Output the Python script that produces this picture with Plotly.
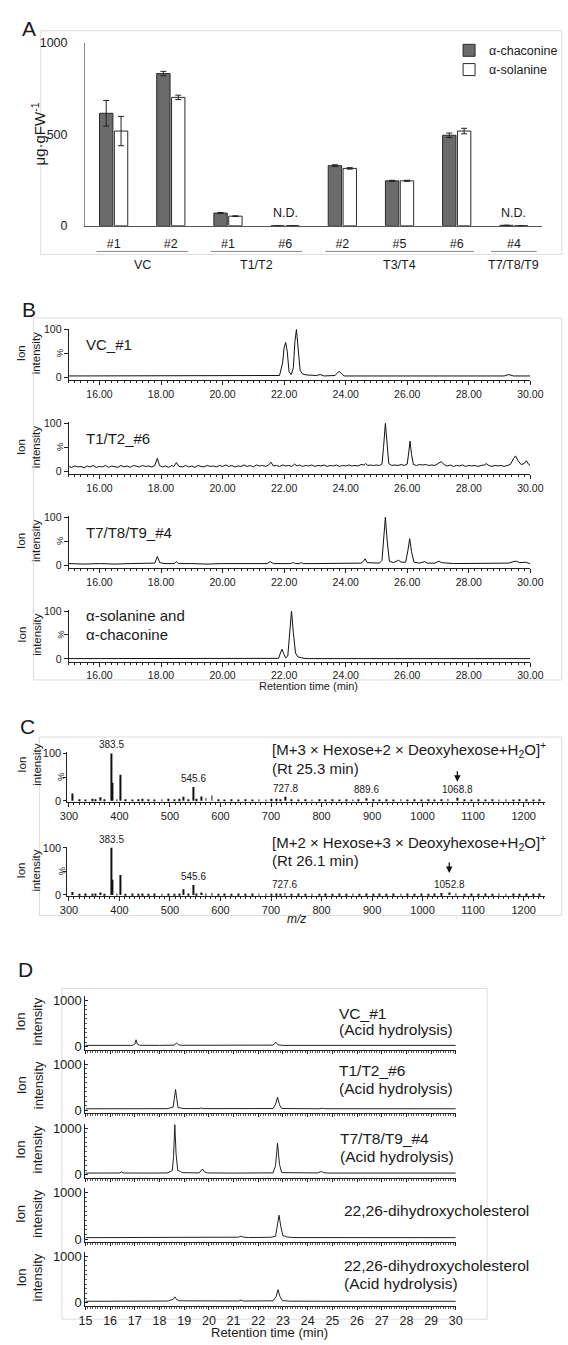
import plotly.graph_objects as go

W, H = 568, 1345
FONT = "Liberation Sans, Arial, Helvetica, sans-serif"
TXT = "#1a1a1a"
AX = "#222222"

# ===================== DATA =====================
# Panel A : glycoalkaloid content (ug/gFW)
A_samples = ["#1", "#2", "#1", "#6", "#2", "#5", "#6", "#4"]
A_groups = ["VC", "VC", "T1/T2", "T1/T2", "T3/T4", "T3/T4", "T3/T4", "T7/T8/T9"]
A_chaconine = [614, 831, 69, 0, 328, 245, 494, 2]
A_chaconine_err = [70, 12, 3, 0, 5, 3, 12, 0]
A_solanine = [517, 701, 52, 0, 313, 245, 517, 0]
A_solanine_err = [80, 12, 2, 0, 4, 3, 15, 0]

# Panel B : chromatograms (retention time min, relative intensity %)
B_names = ["VC_#1", "T1/T2_#6", "T7/T8/T9_#4", "α-solanine and<br>α-chaconine"]
B_vc1 = [(15.0, 3), (16.5, 3), (18.0, 3), (19.5, 3), (21.0, 3), (21.85, 4), (21.95, 30), (22.0, 62),
         (22.05, 73), (22.1, 55), (22.16, 12), (22.23, 6), (22.3, 20), (22.35, 75), (22.4, 100),
         (22.45, 70), (22.52, 15), (22.6, 7), (22.75, 5), (23.05, 4), (23.17, 6), (23.3, 3),
         (23.65, 4), (23.73, 9), (23.79, 13), (23.86, 8), (23.95, 3), (25.0, 3), (26.8, 3),
         (26.9, 4), (27.0, 3), (29.15, 3), (29.3, 6), (29.45, 3), (30.0, 3)]
B_t12_6 = [(15.0, 10), (15.1, 8), (15.2, 11), (15.3, 9), (15.4, 10), (15.5, 7), (15.6, 11), (15.7, 9),
           (15.8, 12), (15.9, 8), (16.0, 10), (16.1, 9), (16.2, 12), (16.3, 8), (16.4, 11), (16.5, 10),
           (16.6, 8), (16.7, 12), (16.8, 9), (16.9, 11), (17.0, 8), (17.1, 12), (17.2, 10), (17.3, 9),
           (17.4, 12), (17.5, 10), (17.6, 11), (17.7, 9), (17.8, 12), (17.88, 27), (17.95, 12),
           (18.05, 9), (18.15, 11), (18.25, 8), (18.35, 12), (18.42, 10), (18.5, 18), (18.58, 10),
           (18.7, 9), (18.8, 12), (18.9, 9), (19.0, 11), (19.1, 8), (19.2, 12), (19.3, 10), (19.4, 9),
           (19.5, 12), (19.6, 10), (19.7, 11), (19.8, 9), (19.9, 12), (20.0, 10), (20.1, 13), (20.2, 10),
           (20.3, 12), (20.4, 9), (20.5, 11), (20.6, 10), (20.7, 13), (20.8, 10), (20.9, 12), (21.0, 9),
           (21.1, 13), (21.2, 11), (21.3, 12), (21.4, 10), (21.5, 13), (21.57, 19), (21.65, 11),
           (21.75, 12), (21.85, 10), (21.95, 13), (22.05, 11), (22.15, 12), (22.25, 10), (22.34, 15),
           (22.42, 11), (22.5, 13), (22.6, 10), (22.7, 12), (22.8, 11), (22.9, 13), (23.0, 10),
           (23.1, 12), (23.2, 11), (23.3, 13), (23.4, 10), (23.5, 12), (23.6, 11), (23.7, 13),
           (23.8, 10), (23.9, 12), (24.0, 11), (24.1, 13), (24.2, 11), (24.3, 12), (24.4, 11),
           (24.5, 14), (24.6, 13), (24.65, 16), (24.72, 12), (24.8, 13), (24.9, 12), (25.0, 13),
           (25.1, 12), (25.18, 15), (25.23, 50), (25.29, 100), (25.35, 55), (25.4, 16), (25.5, 12),
           (25.6, 13), (25.7, 12), (25.8, 14), (25.9, 12), (26.0, 15), (26.05, 40), (26.09, 63),
           (26.14, 35), (26.2, 14), (26.3, 12), (26.4, 14), (26.5, 13), (26.6, 14), (26.7, 12),
           (26.8, 13), (26.9, 12), (27.0, 16), (27.1, 20), (27.2, 14), (27.3, 11), (27.4, 13),
           (27.5, 10), (27.6, 12), (27.7, 11), (27.8, 13), (27.9, 10), (28.0, 12), (28.1, 11),
           (28.2, 12), (28.3, 10), (28.4, 12), (28.5, 13), (28.57, 16), (28.65, 12), (28.75, 10),
           (28.85, 12), (28.95, 11), (29.05, 12), (29.15, 10), (29.25, 12), (29.35, 14), (29.45, 26),
           (29.52, 32), (29.6, 22), (29.7, 14), (29.8, 16), (29.87, 22), (29.95, 14), (30.0, 12)]
B_t789_4 = [(15.0, 3), (15.5, 2), (16.0, 3), (16.5, 2), (17.0, 3), (17.5, 3), (17.8, 4), (17.88, 18),
            (17.96, 5), (18.1, 3), (18.43, 3), (18.5, 7), (18.57, 3), (19.0, 3), (19.5, 2), (20.0, 3),
            (20.5, 3), (21.0, 3), (21.45, 3), (21.55, 7), (21.65, 3), (22.2, 3), (22.3, 5), (22.38, 3),
            (22.5, 3), (22.56, 5), (22.62, 3), (23.0, 3), (23.5, 3), (24.0, 3), (24.5, 4), (24.58, 8),
            (24.63, 13), (24.7, 5), (24.9, 4), (25.1, 4), (25.18, 10), (25.23, 50), (25.29, 100),
            (25.35, 50), (25.42, 8), (25.55, 5), (25.65, 7), (25.72, 10), (25.8, 6), (25.95, 6),
            (26.02, 30), (26.08, 55), (26.14, 28), (26.22, 6), (26.4, 4), (26.52, 6), (26.57, 7),
            (26.65, 4), (26.9, 4), (27.03, 8), (27.12, 5), (27.5, 3), (28.0, 3), (28.5, 3), (29.0, 3),
            (29.3, 4), (29.45, 7), (29.55, 8), (29.65, 5), (29.8, 5), (29.86, 6), (29.93, 4), (30.0, 3)]
B_std = [(15.0, 0.5), (21.0, 0.5), (21.82, 1), (21.88, 12), (21.93, 20), (21.98, 12), (22.05, 2),
         (22.12, 6), (22.18, 50), (22.24, 100), (22.3, 55), (22.37, 12), (22.45, 4), (22.55, 2),
         (22.65, 1), (22.8, 0.5), (30.0, 0.5)]
B_traces = [B_vc1, B_t12_6, B_t789_4, B_std]

# Panel C : MS spectra (m/z, relative intensity %)
C_titles = ["[M+3 × Hexose+2 × Deoxyhexose+H<sub>2</sub>O]<sup>+</sup>",
            "[M+2 × Hexose+3 × Deoxyhexose+H<sub>2</sub>O]<sup>+</sup>"]
C_rt = ["(Rt 25.3 min)", "(Rt 26.1 min)"]
C_spec1 = [(307, 15), (320, 3), (333, 2), (346, 4), (352, 3), (363, 7), (371, 3), (383.5, 100),
           (385.5, 38), (395, 3), (401.5, 55), (412, 3), (425, 2), (438, 3), (446, 4), (458, 3),
           (470, 2), (484, 3), (497, 4), (509, 3), (518, 4), (527, 8), (536, 3), (545.6, 29),
           (553, 4), (563, 9), (571, 5), (583, 11), (596, 3), (608, 2), (622, 3), (636, 2), (650, 3),
           (663, 2), (676, 3), (690, 2), (701, 4), (710, 4), (718, 3), (727.8, 8), (741, 3), (755, 2),
           (768, 3), (781, 2), (795, 3), (808, 2), (822, 3), (836, 2), (849, 3), (862, 2), (873, 3),
           (889.6, 5), (902, 3), (915, 2), (929, 3), (943, 2), (957, 3), (970, 2), (984, 3), (997, 2),
           (1011, 3), (1024, 2), (1037, 3), (1050, 4), (1068.8, 6), (1082, 3), (1096, 2), (1110, 3),
           (1124, 2), (1138, 3), (1151, 2), (1165, 3), (1179, 2), (1192, 3), (1206, 3), (1219, 2),
           (1232, 3)]
C_spec2 = [(307, 6), (320, 2), (333, 3), (346, 2), (352, 3), (363, 5), (371, 2), (383.5, 100),
           (385.5, 32), (395, 3), (401.5, 42), (412, 2), (425, 3), (438, 2), (446, 3), (458, 2),
           (470, 3), (484, 2), (497, 3), (509, 2), (518, 3), (527, 12), (536, 3), (545.6, 21),
           (553, 3), (563, 5), (571, 3), (583, 4), (596, 2), (608, 3), (622, 2), (636, 3), (650, 2),
           (663, 3), (676, 2), (690, 3), (701, 2), (710, 3), (718, 2), (727.6, 4), (741, 2), (755, 3),
           (768, 2), (781, 3), (795, 2), (808, 3), (822, 2), (836, 3), (849, 2), (862, 3), (875, 2),
           (889, 3), (902, 2), (915, 3), (929, 2), (943, 3), (957, 2), (970, 3), (984, 2), (997, 3),
           (1011, 2), (1024, 3), (1037, 4), (1052.8, 5), (1066, 3), (1082, 2), (1096, 3), (1110, 2),
           (1124, 3), (1138, 2), (1151, 3), (1165, 2), (1179, 3), (1192, 2), (1206, 3), (1219, 2),
           (1232, 3)]
C_specs = [C_spec1, C_spec2]
C_labels = [[383.5, 545.6, 727.8, 889.6, 1068.8], [383.5, 545.6, 727.6, 1052.8]]
C_target = [1068.8, 1052.8]

# Panel D : chromatograms after acid hydrolysis (retention time min, ion intensity)
D_names = [["VC_#1", "(Acid hydrolysis)"], ["T1/T2_#6", "(Acid hydrolysis)"],
           ["T7/T8/T9_#4", "(Acid hydrolysis)"], ["22,26-dihydroxycholesterol"],
           ["22,26-dihydroxycholesterol", "(Acid hydrolysis)"]]
D_1 = [(15.0, 30), (16.0, 32), (16.9, 30), (17.0, 60), (17.05, 150), (17.1, 60), (17.2, 32), (18.0, 30),
       (18.6, 35), (18.69, 85), (18.78, 40), (18.9, 32), (20.0, 30), (21.0, 32), (22.0, 30), (22.6, 35),
       (22.71, 100), (22.8, 40), (23.0, 30), (25.0, 30), (27.0, 30), (30.0, 30)]
D_2 = [(15.0, 35), (17.0, 35), (18.3, 37), (18.45, 55), (18.55, 70), (18.6, 250), (18.65, 450),
       (18.7, 250), (18.75, 60), (18.85, 55), (18.95, 40), (19.6, 38), (19.7, 50), (19.8, 38),
       (21.0, 35), (22.6, 40), (22.7, 130), (22.78, 285), (22.86, 120), (22.95, 40), (24.5, 35),
       (24.6, 45), (24.7, 36), (30.0, 35)]
D_3 = [(15.0, 35), (16.4, 37), (16.46, 60), (16.52, 37), (17.6, 35), (18.3, 38), (18.43, 65),
       (18.52, 90), (18.57, 400), (18.62, 1080), (18.67, 450), (18.74, 90), (18.85, 70), (18.92, 45),
       (19.6, 38), (19.68, 80), (19.74, 122), (19.82, 60), (19.95, 38), (21.0, 35), (22.6, 40),
       (22.7, 200), (22.78, 680), (22.86, 220), (22.95, 45), (24.4, 38), (24.5, 60), (24.56, 72),
       (24.65, 45), (24.8, 36), (30.0, 35)]
D_4 = [(15.0, 30), (17.0, 30), (20.7, 32), (21.2, 40), (21.3, 62), (21.4, 40), (21.6, 32), (22.35, 35),
       (22.43, 45), (22.52, 38), (22.7, 60), (22.78, 300), (22.84, 514), (22.92, 250), (23.0, 70),
       (23.08, 65), (23.15, 45), (23.4, 32), (26.0, 30), (30.0, 30)]
D_5 = [(15.0, 30), (17.0, 32), (18.35, 35), (18.45, 55), (18.55, 70), (18.62, 125), (18.7, 65),
       (18.8, 40), (20.0, 32), (21.2, 36), (21.3, 55), (21.4, 35), (22.6, 40), (22.72, 130),
       (22.8, 280), (22.88, 130), (22.98, 45), (23.3, 32), (27.0, 30), (30.0, 30)]
D_traces = [D_1, D_2, D_3, D_4, D_5]


# ===================== HELPERS =====================
def fx(p):
    return p / W


def fy(p):
    return 1 - p / H


def ann(text, x, y, size, xanchor="center", yanchor="middle", **kw):
    d = dict(text=text, x=fx(x), y=fy(y), xref="paper", yref="paper", showarrow=False,
             font=dict(size=size, color=TXT, family=FONT), xanchor=xanchor, yanchor=yanchor)
    d.update(kw)
    return d


fig = go.Figure()
layout = dict(width=W, height=H, margin=dict(l=0, r=0, t=0, b=0), paper_bgcolor="white",
              plot_bgcolor="rgba(0,0,0,0)", barmode="group", bargap=0.48, bargroupgap=0.1,
              font=dict(family=FONT, color=TXT), showlegend=True,
              legend=dict(x=fx(458), y=fy(29), xanchor="left", yanchor="top",
                          bgcolor="rgba(0,0,0,0)", font=dict(size=12.5, color=TXT),
                          itemwidth=30, tracegroupgap=0))
annotations = []
shapes = []

# ===================== PANEL A =====================
idx = list(range(len(A_samples)))
fig.add_trace(go.Bar(x=idx, y=A_chaconine, name="α-chaconine", xaxis="x", yaxis="y",
                     marker=dict(color="#6b6b6b", line=dict(color="#2a2a2a", width=1)),
                     error_y=dict(type="data", array=A_chaconine_err, color="#222", thickness=1, width=3)))
fig.add_trace(go.Bar(x=idx, y=A_solanine, name="α-solanine", xaxis="x", yaxis="y",
                     marker=dict(color="white", line=dict(color="#2a2a2a", width=1)),
                     error_y=dict(type="data", array=A_solanine_err, color="#222", thickness=1, width=3)))
layout["xaxis"] = dict(domain=[fx(80), fx(555)], range=[-0.5, len(idx) - 0.5], anchor="y",
                       tickvals=idx, ticktext=A_samples, ticks="", showline=True, linecolor="#555",
                       tickfont=dict(size=12.5, color=TXT), ticklabelstandoff=6, showgrid=False,
                       zeroline=False)
layout["yaxis"] = dict(domain=[fy(221), fy(36)], range=[0, 1000], anchor="x", tickvals=[0, 500, 1000],
                       ticks="", showline=True, linecolor="#888", tickfont=dict(size=12.5, color=TXT),
                       ticklabelstandoff=14, showgrid=False, zeroline=False)
for i in idx:
    if max(A_chaconine[i], A_solanine[i]) < 5:
        annotations.append(dict(text="N.D.", x=i, y=70, xref="x", yref="y", showarrow=False,
                                font=dict(size=12.5, color=TXT, family=FONT)))
groups = []
for i, g in enumerate(A_groups):
    if not groups or groups[-1][0] != g:
        groups.append([g, i, i])
    else:
        groups[-1][2] = i
for g, a, b in groups:
    pad = 0.3 if b > a else 0.4
    shapes.append(dict(type="line", xref="x", yref="paper", x0=a - pad, x1=b + pad, y0=fy(247), y1=fy(247),
                       line=dict(color="#8a8a8a", width=1)))
    annotations.append(dict(text=g, x=(a + b) / 2, y=fy(261), xref="x", yref="paper", showarrow=False,
                            font=dict(size=12.5, color=TXT, family=FONT), yanchor="middle"))
annotations.append(ann("A", 21.5, 22, 21))
annotations.append(ann("μg·gFW<sup>-1</sup>", 32, 128, 15, textangle=-90))
shapes.append(dict(type="rect", xref="paper", yref="paper", x0=fx(34), x1=fx(575), y0=fy(250), y1=fy(24),
                   line=dict(color="#dcdcdc", width=1), layer="below"))

# ===================== PANEL B =====================
B_zero = [374.3, 469.1, 563.9, 658.7]
for i, tr in enumerate(B_traces):
    n = 2 + i
    z = B_zero[i]
    t = [p[0] for p in tr]
    v = [p[1] for p in tr]
    fig.add_trace(go.Scatter(x=t, y=v, mode="lines", line=dict(color="#111", width=1),
                             xaxis=f"x{n}", yaxis=f"y{n}", showlegend=False))
    layout[f"xaxis{n}"] = dict(domain=[fx(63), fx(542.4)], range=[15, 30], anchor=f"y{n}", tick0=16, dtick=2,
                               tickformat=".2f", ticks="outside", ticklen=4, tickcolor=AX,
                               minor=dict(tick0=15, dtick=0.2, ticks="outside", ticklen=2, tickcolor=AX),
                               showline=True, linecolor=AX, tickfont=dict(size=10.5, color=TXT),
                               showgrid=False, zeroline=False)
    layout[f"yaxis{n}"] = dict(domain=[fy(z + 3), fy(z - 49.3)], range=[-6.2, 102], anchor=f"x{n}",
                               tickvals=[0, 100], ticks="outside", ticklen=4,
                               minor=dict(tickmode="array", tickvals=[50], ticks="outside", ticklen=4,
                                          tickcolor=AX),
                               tickcolor=AX, showline=True, linecolor=AX, tickfont=dict(size=10.5, color=TXT),
                               showgrid=False, zeroline=False)
    annotations.append(ann("Ion<br>intensity", 21.5, z - 24, 11.5, textangle=-90))
    annotations.append(ann("%", 53.6, z - 25, 9.5, textangle=-90))
    lines = B_names[i].split("<br>")
    if len(lines) == 1:
        annotations.append(ann(lines[0], 79, z - 33, 15, xanchor="left"))
    else:
        annotations.append(ann(lines[0], 79, z - 43.7, 15, xanchor="left"))
        annotations.append(ann(lines[1], 79, z - 24.7, 15, xanchor="left"))
annotations.append(ann("Retention time (min)", 312, 686, 11))
annotations.append(ann("B", 21.5, 306, 21))
shapes.append(dict(type="rect", xref="paper", yref="paper", x0=fx(26.4), x1=fx(575), y0=fy(680), y1=fy(314.3),
                   line=dict(color="#dcdcdc", width=1), layer="below"))

# ===================== PANEL C =====================
C_zero = [802, 897.3]
C_title_y = [[750, 769.3], [844.3, 862.7]]
C_ion_y = [766, 873]
C_arrow_tip = [783, 875]
for i, sp in enumerate(C_specs):
    n = 6 + i
    z = C_zero[i]
    mz = [p[0] for p in sp]
    it = [p[1] for p in sp]
    fig.add_trace(go.Bar(x=mz, y=it, width=1.7, marker=dict(color="#111", line=dict(width=0)),
                         xaxis=f"x{n}", yaxis=f"y{n}", showlegend=False))
    layout[f"xaxis{n}"] = dict(domain=[fx(61.7), fx(558)], range=[297, 1243], anchor=f"y{n}", tick0=300,
                               dtick=100, ticks="outside", ticklen=4, tickcolor=AX,
                               minor=dict(dtick=10, ticks="outside", ticklen=2, tickcolor=AX),
                               showline=True, linecolor=AX, tickfont=dict(size=11, color=TXT),
                               showgrid=False, zeroline=False)
    layout[f"yaxis{n}"] = dict(domain=[fy(z + 0.95), fy(z - 48.7)], range=[-2, 102], anchor=f"x{n}",
                               tickvals=[0, 100], ticks="outside", ticklen=3,
                               minor=dict(tickmode="array", tickvals=[50], ticks="outside", ticklen=3,
                                          tickcolor=AX),
                               tickcolor=AX, showline=True, linecolor=AX, tickfont=dict(size=11, color=TXT),
                               showgrid=False, zeroline=False)
    lookup = dict(sp)
    for lab in C_labels[i]:
        annotations.append(dict(text=f"{lab}", x=lab, y=lookup[lab], xref=f"x{n}", yref=f"y{n}",
                                showarrow=False, yanchor="bottom", yshift=1,
                                font=dict(size=10, color=TXT, family=FONT)))
    annotations.append(dict(text="", x=C_target[i], y=fy(C_arrow_tip[i]), xref=f"x{n}", yref="paper",
                            showarrow=True, ax=0, ay=-12, arrowhead=2, arrowsize=1, arrowwidth=1.3,
                            arrowcolor="#111"))
    annotations.append(ann(C_titles[i], 272.5, C_title_y[i][0], 15, xanchor="left"))
    annotations.append(ann(C_rt[i], 272.5, C_title_y[i][1], 15, xanchor="left"))
    annotations.append(ann("Ion<br>intensity", 21.5, C_ion_y[i], 11.5, textangle=-90))
    annotations.append(ann("%", 55, z - 25, 9.5, textangle=-90))
annotations.append(ann("<i>m/z</i>", 300, 922, 12))
annotations.append(ann("C", 20, 727.5, 21))
shapes.append(dict(type="rect", xref="paper", yref="paper", x0=fx(32.6), x1=fx(575), y0=fy(918), y1=fy(737.7),
                   line=dict(color="#dcdcdc", width=1), layer="below"))

# ===================== PANEL D =====================
D_zero = [1050.7, 1115, 1180, 1245, 1309.3]
D_label_y = [[1016.7, 1033.3], [1075, 1093.3], [1143.3, 1161.7], [1216], [1271.7, 1290]]
D_label_x = [342, 342, 343, 347, 347]
for i, tr in enumerate(D_traces):
    n = 8 + i
    z = D_zero[i]
    t = [p[0] for p in tr]
    v = [p[1] for p in tr]
    fig.add_trace(go.Scatter(x=t, y=v, mode="lines", line=dict(color="#222", width=1),
                             xaxis=f"x{n}", yaxis=f"y{n}", showlegend=False))
    last = i == len(D_traces) - 1
    layout[f"xaxis{n}"] = dict(domain=[fx(80.4), fx(465)], range=[15, 30], anchor=f"y{n}", tick0=15, dtick=1,
                               ticks="outside", ticklen=3, tickcolor=AX, showticklabels=last,
                               minor=dict(dtick=0.1, ticks="outside", ticklen=2, tickcolor="#555"),
                               showline=True, linecolor=AX, tickfont=dict(size=12.5, color=TXT),
                               showgrid=False, zeroline=False)
    layout[f"yaxis{n}"] = dict(domain=[fy(z + 3), fy(z - 51.1)], range=[-64, 1090], anchor=f"x{n}",
                               tickvals=[0, 1000], ticks="inside", ticklen=3, tickcolor=AX,
                               minor=dict(dtick=100, ticks="inside", ticklen=2, tickcolor="#555"),
                               showline=True, linecolor=AX, tickfont=dict(size=13, color=TXT),
                               showgrid=False, zeroline=False)
    annotations.append(ann("Ion<br>intensity", 22.3, z - 26, 13, textangle=-90))
    for txt, yy in zip(D_names[i], D_label_y[i]):
        annotations.append(ann(txt, D_label_x[i], yy, 15.5, xanchor="left"))
annotations.append(ann("Retention time (min)", 272, 1339, 13))
annotations.append(ann("D", 18.5, 972.5, 21))
shapes.append(dict(type="rect", xref="paper", yref="paper", x0=fx(56), x1=fx(497.5), y0=fy(1326), y1=fy(991.7),
                   line=dict(color="#dcdcdc", width=1), layer="below"))

layout["annotations"] = annotations
layout["shapes"] = shapes
fig.update_layout(**layout)
fig.write_html("out.html", config={"displayModeBar": False},
               post_script="document.body.style.margin='0px';")
